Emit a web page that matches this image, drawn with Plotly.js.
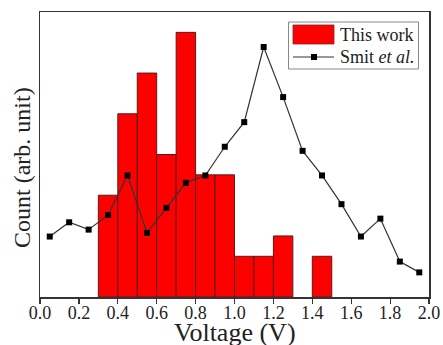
<!DOCTYPE html>
<html>
<head>
<meta charset="utf-8">
<script src="https://cdn.plot.ly/plotly-3.0.1.min.js"></script>
<style>html,body{margin:0;padding:0;background:#fff;}#chart{width:443px;height:345px;}</style>
</head>
<body>
<div id="chart"></div>
<script>
// Histogram "This work" (bin 1.3-1.4 is empty)
const binCenters = [0.35, 0.45, 0.55, 0.65, 0.75, 0.85, 0.95, 1.05, 1.15, 1.25, 1.45];
const binCounts  = [5, 9, 11, 7, 13, 6, 6, 2, 2, 3, 2];
// Smit et al. line
const smitX = [0.05, 0.15, 0.25, 0.35, 0.45, 0.55, 0.65, 0.75, 0.85, 0.95, 1.05, 1.15, 1.25, 1.35, 1.45, 1.55, 1.65, 1.75, 1.85, 1.95];
const smitY = [2.97, 3.67, 3.31, 4.03, 5.97, 3.15, 4.38, 5.61, 5.97, 7.38, 8.59, 12.28, 9.82, 7.18, 5.97, 4.56, 2.97, 3.85, 1.74, 1.21];
const xTickVals = [0.0, 0.2, 0.4, 0.6, 0.8, 1.0, 1.2, 1.4, 1.6, 1.8, 2.0];
const xTickText = ['0.0', '0.2', '0.4', '0.6', '0.8', '1.0', '1.2', '1.4', '1.6', '1.8', '2.0'];
const xTitle = 'Voltage (V)';
const yTitle = 'Count (arb. unit)';
const seriesNames = ['This work', 'Smit <i>et al.</i>'];

const font = 'Liberation Serif, Times New Roman, serif';
const W = 443, H = 345;
const M = {l: 40, r: 14, t: 12, b: 48};
const PW = W - M.l - M.r, PH = H - M.t - M.b;
const fx = p => (p - M.l) / PW;          // pixel -> paper x
const fy = p => (H - M.b - p) / PH;      // pixel -> paper y

const barColor = '#ff0000';
const lineColor = '#333333';

const traces = [
  {
    type: 'bar', name: seriesNames[0],
    x: binCenters, y: binCounts, width: 0.1,
    marker: {color: barColor, line: {color: '#5a1a1a', width: 1}},
    hoverinfo: 'skip'
  },
  {
    type: 'scatter', mode: 'lines+markers', name: seriesNames[1],
    x: smitX, y: smitY,
    line: {color: lineColor, width: 1.2},
    marker: {symbol: 'square', size: 6, color: '#000000'},
    hoverinfo: 'skip'
  }
];

// Hand-drawn legend (matches the reference's larger swatches)
const legendShapes = [
  {type: 'rect', xref: 'paper', yref: 'paper', x0: fx(288.5), x1: fx(418.5), y0: fy(69), y1: fy(22),
   line: {color: '#888888', width: 1}, fillcolor: '#ffffff', layer: 'above'},
  {type: 'rect', xref: 'paper', yref: 'paper', x0: fx(293), x1: fx(334), y0: fy(44), y1: fy(25),
   line: {color: '#7a2a2a', width: 0.8}, fillcolor: barColor, layer: 'above'},
  {type: 'line', xref: 'paper', yref: 'paper', x0: fx(293), x1: fx(334), y0: fy(57), y1: fy(57),
   line: {color: lineColor, width: 1.2}, layer: 'above'},
  {type: 'rect', xref: 'paper', yref: 'paper', x0: fx(311), x1: fx(317), y0: fy(60), y1: fy(54),
   line: {width: 0}, fillcolor: '#000000', layer: 'above'}
];

const layout = {
  width: W, height: H,
  margin: M,
  paper_bgcolor: '#ffffff', plot_bgcolor: '#ffffff',
  font: {family: font, size: 18, color: '#222222'},
  bargap: 0,
  showlegend: false,
  xaxis: {
    range: [0, 2], tickvals: xTickVals, ticktext: xTickText,
    ticks: 'outside', ticklen: 5, tickwidth: 1.2, tickcolor: '#333333',
    ticklabeloverflow: 'allow', ticklabelstandoff: -6,
    showline: true, linecolor: '#333333', linewidth: 1.5, mirror: true,
    showgrid: false, zeroline: false,
    tickfont: {family: font, size: 18, color: '#222222'}
  },
  yaxis: {
    range: [0, 14], showticklabels: false, ticks: '',
    showline: true, linecolor: '#333333', linewidth: 1.5, mirror: true,
    showgrid: false, zeroline: false
  },
  shapes: legendShapes,
  annotations: [
    {text: xTitle, xref: 'paper', yref: 'paper', x: fx(234.5), y: fy(316),
     xanchor: 'center', yanchor: 'top', showarrow: false,
     font: {family: font, size: 26, color: '#222222'}},
    {text: yTitle, xref: 'paper', yref: 'paper', x: fx(22.5), y: fy(167.5),
     xanchor: 'center', yanchor: 'middle', textangle: -90, showarrow: false,
     font: {family: font, size: 24, color: '#222222'}},
    {text: seriesNames[0], xref: 'paper', yref: 'paper', x: fx(338), y: fy(34.5),
     xanchor: 'left', yanchor: 'middle', showarrow: false,
     font: {family: font, size: 18, color: '#222222'}},
    {text: seriesNames[1], xref: 'paper', yref: 'paper', x: fx(338), y: fy(57),
     xanchor: 'left', yanchor: 'middle', showarrow: false,
     font: {family: font, size: 18, color: '#222222'}}
  ]
};

Plotly.newPlot('chart', traces, layout, {staticPlot: true, displayModeBar: false});
</script>
</body>
</html>
